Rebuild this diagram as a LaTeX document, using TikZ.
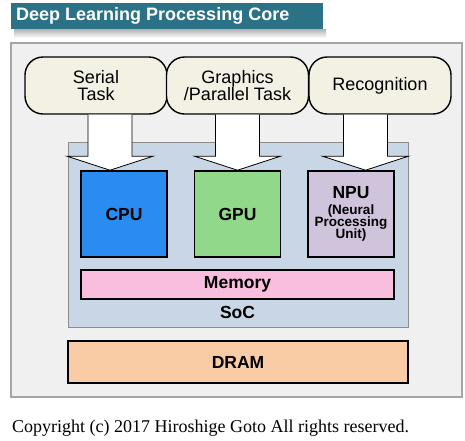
\documentclass[tikz,border=0pt]{standalone}
\usepackage{fontspec}
\setmainfont{Liberation Sans}
\newfontfamily\copyfont{Liberation Serif}
\usetikzlibrary{calc}
\definecolor{titlebar}{RGB}{43,114,134}
\definecolor{panelgray}{RGB}{240,240,240}
\definecolor{taskcream}{RGB}{243,241,228}
\definecolor{socblue}{RGB}{200,214,230}
\definecolor{cpublue}{RGB}{42,140,240}
\definecolor{gpugreen}{RGB}{146,216,139}
\definecolor{npulilac}{RGB}{208,196,220}
\definecolor{mempink}{RGB}{249,190,221}
\definecolor{dramorange}{RGB}{249,204,165}
\newcommand\npusmall{\fontsize{13.5}{12}\selectfont}
\tikzset{
task/.style={draw,line width=1.4pt,rounded corners=18pt,fill=taskcream,minimum width=142pt,minimum height=57pt,inner sep=0pt,align=center,font=\fontsize{18}{17}\selectfont},
unit/.style={draw,line width=1.6pt,minimum width=86pt,minimum height=86pt,inner sep=0pt,align=center,font=\bfseries\fontsize{17.5}{18}\selectfont},
bar/.style={draw,line width=1.1pt,inner sep=0pt,font=\bfseries\fontsize{17.5}{18}\selectfont},
bigarrow/.style={draw,fill=white,line width=0.8pt,line join=miter}
}

\begin{document}
\begin{tikzpicture}[x=1pt,y=-1pt]
\fill[white] (0,0) rectangle (465,440);
\useasboundingbox (0,0) rectangle (465,440);
\shade[top color=black!30,bottom color=white] (14,29) rectangle (326,38);
\fill[titlebar] (11,3) rectangle (323,29);
\node[anchor=west,text=white,font=\bfseries\fontsize{18}{18}\selectfont,inner sep=0pt] (title) at (16,16) {Deep Learning Processing Core};
\draw[gray!70,line width=1.2pt,fill=panelgray] (11,43) rectangle (462,397);
\draw[gray!90,line width=0.8pt,fill=socblue] (68,142) rectangle (408,327);
\node[task] (serial) at (96,85.5) {Serial\\Task};
\node[task] (graphics) at (237.5,85.5) {Graphics\\/Parallel Task};
\node[task] (recog) at (380,85.5) {Recognition};
\node[unit,fill=cpublue] (cpu) at (124,214) {CPU};
\node[unit,fill=gpugreen] (gpu) at (237.5,214) {GPU};
\node[unit,fill=npulilac] (npu) at (351,214) {NPU\\[-2pt]{\npusmall(Neural}\\[-6pt]{\npusmall Processing}\\[-6pt]{\npusmall Unit)}};
\foreach \t/\u in {serial/cpu,graphics/gpu,recog/npu}
  \draw[bigarrow] let \p1=(\t.south), \p2=(\u.north), \n1={(\x1+\x2)/2} in
    (\n1-22pt,\y1) -- (\n1-22pt,\y2+14pt) -- (\n1-43pt,\y2+14pt) -- (\n1,\y2)
    -- (\n1+43pt,\y2+14pt) -- (\n1+22pt,\y2+14pt) -- (\n1+22pt,\y1);
\node[bar,fill=mempink,minimum width=313pt,minimum height=29pt] (memory) at (237.5,284.5) {Memory};
\node[font=\bfseries\fontsize{17.5}{18}\selectfont,inner sep=0pt] (soc) at (237.5,312) {SoC};
\node[bar,fill=dramorange,minimum width=340pt,minimum height=42pt] (dram) at (238,362) {DRAM};
\node[anchor=base west,inner sep=0pt,font=\copyfont\fontsize{18}{20}\selectfont] (copy) at (12,432) {Copyright (c) 2017 Hiroshige Goto All rights reserved.};
\end{tikzpicture}
\end{document}
